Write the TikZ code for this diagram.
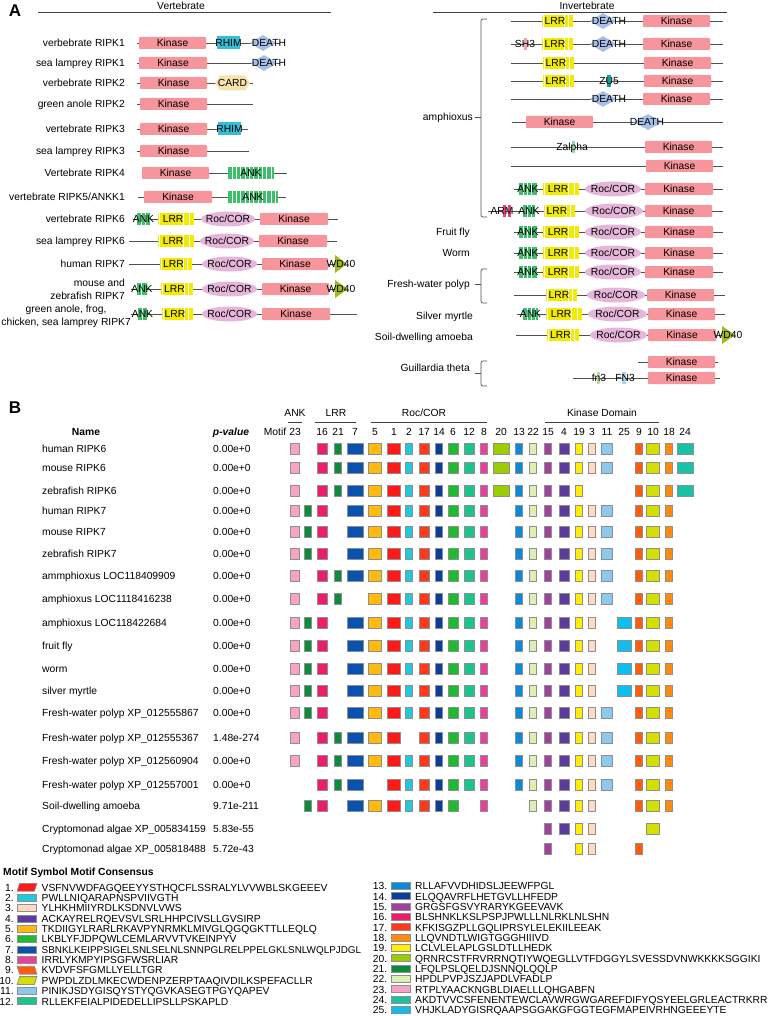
\documentclass[tikz,border=0pt]{standalone}
\usepackage{fontspec}
\setmainfont{Liberation Sans}
\usetikzlibrary{shapes.geometric}
\newcommand\fsz{\fontsize{10.3}{12}\selectfont}
\definecolor{kinc}{HTML}{F7959C}
\definecolor{rhimc}{HTML}{38BDD6}
\definecolor{deathc}{HTML}{A8BFE8}
\definecolor{cardc}{HTML}{F8E2AE}
\definecolor{ankc}{HTML}{3DBF6B}
\definecolor{lrrc}{HTML}{F2EA00}
\definecolor{rocc}{HTML}{E6B6DA}
\definecolor{wdc}{HTML}{9EBB1A}
\definecolor{bbc}{HTML}{505050}
\definecolor{sh3c}{HTML}{F4A3AA}
\definecolor{zu5c}{HTML}{139E98}
\definecolor{zalc}{HTML}{9ADBA6}
\definecolor{armc}{HTML}{E8407E}
\definecolor{fnac}{HTML}{B6DE9C}
\definecolor{fnbc}{HTML}{A6D6F2}
\definecolor{mbord}{HTML}{8F8F8F}
\definecolor{m1}{HTML}{FF1A1A}
\definecolor{m2}{HTML}{1ECADC}
\definecolor{m3}{HTML}{FFDAC3}
\definecolor{m4}{HTML}{5B3B9D}
\definecolor{m5}{HTML}{FFBA0D}
\definecolor{m6}{HTML}{1DBB2F}
\definecolor{m7}{HTML}{0A52B0}
\definecolor{m8}{HTML}{EC3E9B}
\definecolor{m9}{HTML}{FF5C0A}
\definecolor{m10}{HTML}{D4E000}
\definecolor{m11}{HTML}{8CC9EF}
\definecolor{m12}{HTML}{1CC48D}
\definecolor{m13}{HTML}{0A8AD8}
\definecolor{m14}{HTML}{0A3E9A}
\definecolor{m15}{HTML}{A2409E}
\definecolor{m16}{HTML}{EE1D6A}
\definecolor{m17}{HTML}{FF3A1A}
\definecolor{m18}{HTML}{FF8A0C}
\definecolor{m19}{HTML}{FFEE00}
\definecolor{m20}{HTML}{9CCD00}
\definecolor{m21}{HTML}{0C8B3C}
\definecolor{m21a}{HTML}{0C8B3C}
\definecolor{m22}{HTML}{DDF0B3}
\definecolor{m23}{HTML}{F9A3C4}
\definecolor{m24}{HTML}{18C2A6}
\definecolor{m25}{HTML}{0FBEEC}

\newcommand\defMotif[3]{\expandafter\def\csname mx#1\endcsname{#2}\expandafter\def\csname mw#1\endcsname{#3}}
\defMotif{23}{295}{9}
\defMotif{21a}{308}{7}
\defMotif{16}{322}{10}
\defMotif{21}{338}{7}
\defMotif{7}{355}{16}
\defMotif{5}{375}{13}
\defMotif{1}{394}{13}
\defMotif{2}{409}{7}
\defMotif{17}{424}{10}
\defMotif{14}{439}{7}
\defMotif{6}{453}{10}
\defMotif{12}{469}{10}
\defMotif{8}{484}{7}
\defMotif{20}{501}{16}
\defMotif{13}{519}{7}
\defMotif{22}{533}{7}
\defMotif{15}{548}{7}
\defMotif{4}{564}{10}
\defMotif{19}{579}{7}
\defMotif{3}{592}{7}
\defMotif{11}{607}{11}
\defMotif{25}{624}{14}
\defMotif{9}{639}{7}
\defMotif{10}{653}{13}
\defMotif{18}{669}{7}
\defMotif{24}{685}{16}

\newcommand\dBB[4]{\coordinate (#1s) at (#2,#4);\coordinate (#1e) at (#3,#4);\draw[bbline] (#1s) -- (#1e);}
\newcommand\dKin[4]{\node[kinbox,minimum width={#3-#2}] (#1) at ({(#2+#3)/2},#4) {Kinase};}
\newcommand\dLRR[4]{\fill[lrrc] (#2,{#4-6}) rectangle (#3,{#4+6});%
  \foreach \f in {0.05,0.72,0.86}{\draw[white,line width=0.9pt] ({#2+\f*(#3-#2)},{#4-6}) -- ++(0,12);}%
  \node[txt] (#1) at ({#2+0.42*(#3-#2)},#4) {LRR};}
\newcommand\dANK[4]{\fill[ankc] (#2,{#4-6}) rectangle (#3,{#4+6});%
  \foreach \i in {1,...,14}{\pgfmathsetmacro\gx{#2+\i*4.3}\ifdim\gx pt<\dimexpr #3pt-1.5pt\relax \draw[white,line width=0.9pt] (\gx,{#4-6}) -- ++(0,12);\fi}%
  \node[txt] (#1) at ({(#2+#3)/2},#4) {ANK};}
\newcommand\dDeath[5]{\node[diamond,fill=deathc,minimum width=#3,minimum height=16,inner sep=0] (#1) at (#2,#5) {};\node[txt] (#1t) at (#4,#5) {DEATH};}
\newcommand\dRoc[4]{\node[ellipse,fill=rocc,minimum width={#3-#2},minimum height=15,inner sep=0] (#1) at ({(#2+#3)/2},#4) {};\node[txt] (#1t) at ({(#2+#3)/2},#4) {Roc/COR};}
\newcommand\dWD[4]{\fill[wdc] (#2,{#4-9}) -- (#3,#4) -- (#2,{#4+9}) -- cycle;\node[txt] (#1) at ({#2+6},#4) {WD40};}
\newcommand\dRHIM[4]{\fill[rhimc] (#2,{#4-6.5}) rectangle (#3,{#4+6.5});\node[txt] (#1) at ({(#2+#3)/2},#4) {RHIM};}
\newcommand\dCARD[4]{\fill[cardc] (#2,#4) -- ({#2+5},{#4-7.5}) -- ({#3-5},{#4-7.5}) -- (#3,#4) -- ({#3-5},{#4+7.5}) -- ({#2+5},{#4+7.5}) -- cycle;\node[txt] (#1) at ({(#2+#3)/2},#4) {CARD};}
\newcommand\dBar[6]{\fill[#2] ({#3-1.7},{#4-6}) rectangle ({#3+1.7},{#4+6});\node[txt] (#1) at (#5,#4) {#6};}
\newcommand\mRow[3]{\foreach \k in {#3}{\edef\xx{\csname mx\k\endcsname}\edef\ww{\csname mw\k\endcsname}\node[mbox,fill=m\k,minimum width=\ww] (b#1-\k) at (\xx,#2) {};}}
\newcommand\bRow[5]{\node[txt,anchor=west] (n#1) at (42,#2) {#3};\node[txt,anchor=west] (p#1) at (213,#2) {#4};\mRow{#1}{#2}{#5}}
\newcommand\lEg[6]{\node[txt,anchor=east] (#1n) at (#3,#4) {#2.};%
  \node[rectangle,draw=mbord,line width=0.8pt,fill=m#2,minimum width=19,minimum height=7,inner sep=0,#6] (#1s) at ({#3+13},#4) {};%
  \node[txt,anchor=west] (#1t) at ({#3+27.5},#4) {#5};}

\begin{document}
\begin{tikzpicture}[x=1pt,y=-1pt,font=\fsz,
  txt/.style={inner sep=0,text height=7.4pt,text depth=0pt},
  lab/.style={txt,anchor=east},
  mlab/.style={inner sep=0,anchor=east,font=\fontsize{10.3}{13}\selectfont},
  bbline/.style={draw=bbc,line width=0.7pt},
  kinbox/.style={rectangle,fill=kinc,minimum height=12,inner sep=0,rounded corners=0.8pt,text height=7.4pt,text depth=0pt},
  mbox/.style={rectangle,draw=mbord,line width=0.8pt,minimum height=10.5,inner sep=0},
  brace/.style={draw=bbc,line width=0.7pt,rounded corners=2pt},
  hline/.style={draw=black!75,line width=0.8pt},
  panel/.style={inner sep=0,font=\fontsize{17}{17}\selectfont\bfseries}]
\useasboundingbox (0,0) rectangle (768,1016);

% ---------------- Panel A ----------------
\node[panel] (A) at (15,11) {A};
\node[txt] (vert) at (181,6) {Vertebrate};
\coordinate (vl1) at (38,12); \coordinate (vl2) at (331,12);
\draw[hline] (vl1) -- (vl2);
\node[txt] (invert) at (587,6) {Invertebrate};
\coordinate (il1) at (433,12); \coordinate (il2) at (727,12);
\draw[hline] (il1) -- (il2);

% left rows
\node[lab] (L1) at (125,43) {verbebrate RIPK1};
\dBB{a1}{137}{280}{43}\dKin{ak1}{139}{206}{43}\dRHIM{ar1}{217}{240}{43}\dDeath{ad1}{263}{27}{269}{43}

\node[lab] (L2) at (125,63) {sea lamprey RIPK1};
\dBB{a2}{137}{280}{63}\dKin{ak2}{139}{207}{63}\dDeath{ad2}{264}{27}{269}{63}

\node[lab] (L3) at (125,83) {verbebrate RIPK2};
\dBB{a3}{137}{253}{83}\dKin{ak3}{140}{207}{83}\dCARD{ac3}{215}{250}{83}

\node[lab] (L4) at (125,104) {green anole RIPK2};
\dBB{a4}{137}{253}{104}\dKin{ak4}{140}{207}{104}

\node[lab] (L5) at (125,129) {vertebrate RIPK3};
\dBB{a5}{137}{248}{129}\dKin{ak5}{140}{207}{129}\dRHIM{ar5}{218}{241}{129}

\node[lab] (L6) at (125,151) {sea lamprey RIPK3};
\dBB{a6}{137}{249}{151}\dKin{ak6}{140}{207}{151}

\node[lab] (L7) at (125,173) {Vertebrate RIPK4};
\dBB{a7}{142}{287}{173}\dKin{ak7}{142}{209}{173}\dANK{an7}{228}{274}{173}

\node[lab] (L8) at (125,197) {vertebrate RIPK5/ANKK1};
\dBB{a8}{138}{286}{197}\dKin{ak8}{144}{212}{197}\dANK{an8}{228}{278}{197}

\node[lab] (L9) at (125,219) {vertebrate RIPK6};
\dBB{a9}{133}{338}{219}\dANK{an9}{137}{150}{219}\dLRR{al9}{158}{194}{219}\dRoc{ao9}{201}{255}{219}\dKin{ak9}{260}{328}{219}

\node[lab] (L10) at (125,241) {sea lamprey RIPK6};
\dBB{a10}{129}{337}{241}\dLRR{al10}{158}{194}{241}\dRoc{ao10}{200}{254}{241}\dKin{ak10}{259}{327}{241}

\node[lab] (L11) at (125,264) {human RIPK7};
\dBB{a11}{129}{335}{264}\dLRR{al11}{160}{192}{264}\dRoc{ao11}{202}{257}{264}\dKin{ak11}{262}{328}{264}\dWD{aw11}{335}{347}{264}

\node[mlab,align=right] (L12) at (125,289) {mouse and\\zebrafish RIPK7};
\dBB{a12}{131}{336}{289}\dANK{an12}{137}{147}{289}\dLRR{al12}{161}{193}{289}\dRoc{ao12}{202}{257}{289}\dKin{ak12}{262}{329}{289}\dWD{aw12}{335}{348}{289}

\node[mlab,align=center] (L13) at (131,316) {green anole, frog,\\chicken, sea lamprey RIPK7};
\dBB{a13}{131}{357}{314}\dANK{an13}{138}{147}{314}\dLRR{al13}{162}{193}{314}\dRoc{ao13}{202}{257}{314}\dKin{ak13}{262}{330}{314}

% right rows
\coordinate (ba1) at (487,19); \coordinate (ba2) at (481,19); \coordinate (ba3) at (481,217); \coordinate (ba4) at (487,217);
\coordinate (bam) at (481,117); \coordinate (bat) at (475,117);
\draw[brace] (ba1) -- (ba2) -- (ba3) -- (ba4);
\draw[bbline] (bam) -- (bat);
\node[lab] (amph) at (473,117) {amphioxus};

\dBB{r1}{511}{723}{21}\dLRR{rl1}{542}{573}{21}\dDeath{rd1}{603}{27}{609}{21}\dKin{rk1}{643}{710}{21}
\dBB{r2}{511}{723}{44}\dBar{rs2}{sh3c}{525.5}{44}{525}{SH3}\dLRR{rl2}{542}{573}{44}\dDeath{rd2}{603}{27}{609}{44}\dKin{rk2}{643}{710}{44}
\dBB{r3}{511}{723}{63}\dLRR{rl3}{543}{574}{63}\dKin{rk3}{644}{711}{63}
\dBB{r4}{511}{723}{81}\dLRR{rl4}{543}{574}{81}\dBar{rz4}{zu5c}{609}{81}{609}{ZU5}\dKin{rk4}{644}{711}{81}
\dBB{r5}{511}{723}{99}\dDeath{rd5}{603}{27}{609}{99}\dKin{rk5}{643}{710}{99}
\dBB{r6}{512}{723}{122}\dKin{rk6}{526}{593}{122}\dDeath{rd6}{648}{30}{647}{122}
\dBB{r7}{511}{723}{147}\dBar{rz7}{zalc}{573.5}{147}{572}{Zalpha}\dKin{rk7}{645}{712}{147}
\dBB{r8}{511}{723}{166}\dKin{rk8}{646}{713}{166}
\dBB{r9}{514}{723}{189}\dANK{rn9}{519}{537}{189}\dLRR{rl9}{543}{579}{189}\dRoc{ro9}{585}{641}{189}\dKin{rk9}{645}{713}{189}
\dBB{r10}{488}{723}{211}
\fill[armc] (503,205) rectangle (506,217); \fill[armc] (508,205) rectangle (511,217);
\node[txt] (arm) at (502,211) {ARM};
\dANK{rn10}{523}{535}{211}\dLRR{rl10}{544}{575}{211}\dRoc{ro10}{585}{643}{211}\dKin{rk10}{645}{712}{211}

\node[lab] (ffly) at (470,232) {Fruit fly};
\dBB{r11}{514}{723}{232}\dANK{rn11}{519}{537}{232}\dLRR{rl11}{543}{579}{232}\dRoc{ro11}{585}{641}{232}\dKin{rk11}{645}{713}{232}
\node[lab] (worm) at (470,253) {Worm};
\dBB{r12}{514}{723}{253}\dANK{rn12}{519}{537}{253}\dLRR{rl12}{543}{579}{253}\dRoc{ro12}{585}{641}{253}\dKin{rk12}{645}{713}{253}

\coordinate (bf1) at (487,269); \coordinate (bf2) at (481,269); \coordinate (bf3) at (481,303); \coordinate (bf4) at (487,303);
\coordinate (bfm) at (481,284); \coordinate (bft) at (475,284);
\draw[brace] (bf1) -- (bf2) -- (bf3) -- (bf4);
\draw[bbline] (bfm) -- (bft);
\node[lab] (fwp) at (470,284) {Fresh-water polyp};
\dBB{r13}{514}{723}{272}\dANK{rn13}{519}{537}{272}\dLRR{rl13}{543}{579}{272}\dRoc{ro13}{585}{641}{272}\dKin{rk13}{645}{713}{272}
\dBB{r14}{514}{725}{295}\dLRR{rl14}{546}{577}{295}\dRoc{ro14}{587}{645}{295}\dKin{rk14}{647}{714}{295}

\node[lab] (smyr) at (473,316) {Silver myrtle};
\dBB{r15}{517}{725}{314}\dANK{rn15}{523}{538}{314}\dLRR{rl15}{546}{582}{314}\dRoc{ro15}{588}{647}{314}\dKin{rk15}{648}{715}{314}
\node[lab] (soil) at (473,337) {Soil-dwelling amoeba};
\dBB{r16}{516}{725}{335}\dLRR{rl16}{547}{579}{335}\dRoc{ro16}{590}{647}{335}\dKin{rk16}{648}{716}{335}\dWD{rw16}{722}{735}{335}

\coordinate (bg1) at (487,361); \coordinate (bg2) at (481,361); \coordinate (bg3) at (481,386); \coordinate (bg4) at (487,386);
\coordinate (bgm) at (481,373); \coordinate (bgt) at (475,373);
\draw[brace] (bg1) -- (bg2) -- (bg3) -- (bg4);
\draw[bbline] (bgm) -- (bgt);
\node[lab] (guil) at (470,368) {Guillardia theta};
\dBB{r17}{638}{718}{362}\dKin{rk17}{648}{715}{362}
\dBB{r18}{573}{720}{378}\dBar{rf18}{fnac}{598.5}{378}{599}{fn3}\dBar{rg18}{fnbc}{624}{378}{625}{FN3}\dKin{rk18}{648}{715}{378}

% ---------------- Panel B ----------------
\node[panel] (B) at (15,408) {B};
\node[txt] (gANK) at (295,413) {ANK};
\coordinate (gA1) at (288,422); \coordinate (gA2) at (302,422); \draw[hline] (gA1) -- (gA2);
\node[txt] (gLRR) at (336,413) {LRR};
\coordinate (gL1) at (315,422); \coordinate (gL2) at (356,422); \draw[hline] (gL1) -- (gL2);
\node[txt] (gROC) at (424,413) {Roc/COR};
\coordinate (gR1) at (371,422); \coordinate (gR2) at (487,422); \draw[hline] (gR1) -- (gR2);
\node[txt] (gKD) at (602,413) {Kinase Domain};
\coordinate (gK1) at (545,422); \coordinate (gK2) at (659,422); \draw[hline] (gK1) -- (gK2);

\node[txt,font=\fsz\bfseries] (hname) at (86,432) {Name};
\node[txt,font=\fsz\bfseries\itshape] (hpv) at (231,432) {p-value};
\node[txt] (hmot) at (275,432) {Motif};
\foreach \k in {23,16,21,7,5,1,2,17,14,6,12,8,20,13,22,15,4,19,3,11,25,9,10,18,24}{%
  \edef\xx{\csname mx\k\endcsname}\node[txt] (h\k) at (\xx,432) {\k};}

\bRow{1}{449}{human RIPK6}{0.00e+0}{23,16,21,7,5,1,2,17,14,6,12,8,20,13,22,15,4,19,3,11,9,10,18,24}
\bRow{2}{468}{mouse RIPK6}{0.00e+0}{23,16,21,7,5,1,2,17,14,6,12,8,20,13,22,15,4,19,3,11,9,10,18,24}
\bRow{3}{491}{zebrafish RIPK6}{0.00e+0}{23,16,21,7,5,1,2,17,14,6,12,8,20,13,22,15,4,19,9,10,18,24}
\bRow{4}{511}{human RIPK7}{0.00e+0}{23,21a,16,7,5,1,2,17,14,6,12,8,13,22,15,4,19,3,11,9,10,18}
\bRow{5}{532}{mouse RIPK7}{0.00e+0}{23,21a,16,7,5,1,2,17,14,6,12,8,13,22,15,4,19,3,11,9,10,18}
\bRow{6}{554}{zebrafish RIPK7}{0.00e+0}{23,21a,16,7,5,1,2,17,14,6,12,8,13,22,15,4,19,3,11,9,10,18}
\bRow{7}{576}{ammphioxus LOC118409909}{0.00e+0}{23,16,21,7,5,1,2,17,14,6,12,8,13,22,15,4,19,3,11,9,10,18}
\bRow{8}{599}{amphioxus LOC1118416238}{0.00e+0}{23,16,21,5,1,2,17,14,6,12,8,13,22,15,4,19,3,11,9,10,18}
\bRow{9}{623}{amphioxus LOC118422684}{0.00e+0}{23,21a,16,7,5,1,2,17,14,6,12,8,13,22,15,4,19,3,25,9,10,18}
\bRow{10}{646}{fruit fly}{0.00e+0}{23,21a,16,7,5,1,2,17,14,6,12,8,13,22,15,4,19,3,25,9,10,18}
\bRow{11}{669}{worm}{0.00e+0}{23,21a,16,7,5,1,2,17,14,6,12,8,13,22,15,4,19,3,25,9,10,18}
\bRow{12}{691}{silver myrtle}{0.00e+0}{23,21a,16,7,5,1,2,17,14,6,12,8,13,22,15,4,19,3,25,9,10,18}
\bRow{13}{713}{Fresh-water polyp XP\_012555867}{0.00e+0}{23,21a,16,7,5,1,2,17,14,6,12,8,13,22,15,4,19,3,11,9,10,18}
\bRow{14}{738}{Fresh-water polyp XP\_012555367}{1.48e-274}{23,16,21,7,5,1,17,14,6,12,8,13,22,15,4,19,3,11,9,10,18}
\bRow{15}{761}{Fresh-water polyp XP\_012560904}{0.00e+0}{23,16,21,7,5,1,2,17,14,6,12,8,13,22,15,4,19,3,11,9,10,18}
\bRow{16}{785}{Fresh-water polyp XP\_012557001}{0.00e+0}{16,21,7,1,2,17,14,6,12,8,13,22,15,4,19,3,11,9,10,18}
\bRow{17}{806}{Soil-dwelling amoeba}{9.71e-211}{21a,16,7,5,1,2,17,14,6,8,22,15,4,19,3,9,10,18}
\bRow{18}{829}{Cryptomonad algae XP\_005834159}{5.83e-55}{15,4,19,3,10}
\bRow{19}{849}{Cryptomonad algae XP\_005818488}{5.72e-43}{15,19,3,9}

% ---------------- Legend ----------------
\node[txt,anchor=west,font=\fsz\bfseries] (legh) at (3,872) {Motif Symbol Motif Consensus};
\lEg{g1}{1}{14}{887.3}{VSFNVWDFAGQEEYYSTHQCFLSSRALYLVVWBLSKGEEEV}{draw=none,fill=none}
\lEg{g2}{2}{14}{897.7}{PWLLNIQARAPNSPVIIVGTH}{}
\lEg{g3}{3}{14}{908.0}{YLHKHMIIYRDLKSDNVLVWS}{}
\lEg{g4}{4}{14}{918.4}{ACKAYRELRQEVSVLSRLHHPCIVSLLGVSIRP}{}
\lEg{g5}{5}{14}{928.7}{TKDIIGYLRARLRKAVPYNRMKLMIVGLQGQGKTTLLEQLQ}{}
\lEg{g6}{6}{14}{939.1}{LKBLYFJDPQWLCEMLARVVTVKEINPYV}{}
\lEg{g7}{7}{14}{949.5}{\fontsize{9.9}{12}\selectfont SBNKLKEIPPSIGELSNLSELNLSNNPGLRELPPELGKLSNLWQLPJDGL}{}
\lEg{g8}{8}{14}{959.8}{IRRLYKMPYIPSGFWSRLIAR}{}
\lEg{g9}{9}{14}{970.2}{KVDVFSFGMLLYELLTGR}{draw=none,fill=none}
\lEg{g10}{10}{14}{980.5}{PWPDLZDLMKECWDENPZERPTAAQIVDILKSPEFACLLR}{draw=none,fill=none}
\lEg{g11}{11}{14}{990.9}{PINIKJSDYGISQYSTYQGVKASEGTPGYQAPEV}{}
\lEg{g12}{12}{14}{1001.3}{RLLEKFEIALPIDEDELLIPSLLPSKAPLD}{}
\filldraw[fill=m1,draw=mbord,line width=0.8pt] ([xshift=2.5pt]g1s.north west) -- (g1s.north east) -- ([xshift=-2.5pt]g1s.south east) -- (g1s.south west) -- cycle;
\filldraw[fill=m9,draw=mbord,line width=0.8pt] (g9s.north west) -- ([xshift=-2.5pt]g9s.north east) -- (g9s.south east) -- ([xshift=2.5pt]g9s.south west) -- cycle;
\filldraw[fill=m10,draw=mbord,line width=0.8pt] ([xshift=2.5pt]g10s.north west) -- (g10s.north east) -- ([xshift=-2.5pt]g10s.south east) -- (g10s.south west) -- cycle;

\lEg{g13}{13}{387.5}{886.0}{RLLAFVVDHIDSLJEEWFPGL}{}
\lEg{g14}{14}{387.5}{896.3}{ELQQAVRFLHETGVLLHFEDP}{}
\lEg{g15}{15}{387.5}{906.7}{GRGSFGSVYRARYKGEEVAVK}{}
\lEg{g16}{16}{387.5}{917.0}{BLSHNKLKSLPSPJPWLLLNLRKLNLSHN}{}
\lEg{g17}{17}{387.5}{927.3}{KFKISGZPLLGQLIPRSYLELEKIILEEAK}{}
\lEg{g18}{18}{387.5}{937.7}{LLQVNDTLWIGTGGGHIIIVD}{}
\lEg{g19}{19}{387.5}{948.0}{LCLVLELAPLGSLDTLLHEDK}{}
\lEg{g20}{20}{387.5}{958.3}{QRNRCSTFRVRRNQTIYWQEGLLVTFDGGYLSVESSDVNWKKKKSGGIKI}{}
\lEg{g21}{21}{387.5}{968.6}{LFQLPSLQELDJSNNQLQQLP}{}
\lEg{g22}{22}{387.5}{979.0}{HPDLPVPJSZJAPDLVFADLP}{}
\lEg{g23}{23}{387.5}{989.3}{RTPLYAACKNGBLDIAELLLQHGABFN}{}
\lEg{g24}{24}{387.5}{999.6}{AKDTVVCSFENENTEWCLAVWRGWGAREFDIFYQSYEELGRLEACTRKRR}{}
\lEg{g25}{25}{387.5}{1010.0}{VHJKLADYGISRQAAPSGGAKGFGGTEGFMAPEIVRHNGEEEYTE}{}
\end{tikzpicture}
\end{document}
